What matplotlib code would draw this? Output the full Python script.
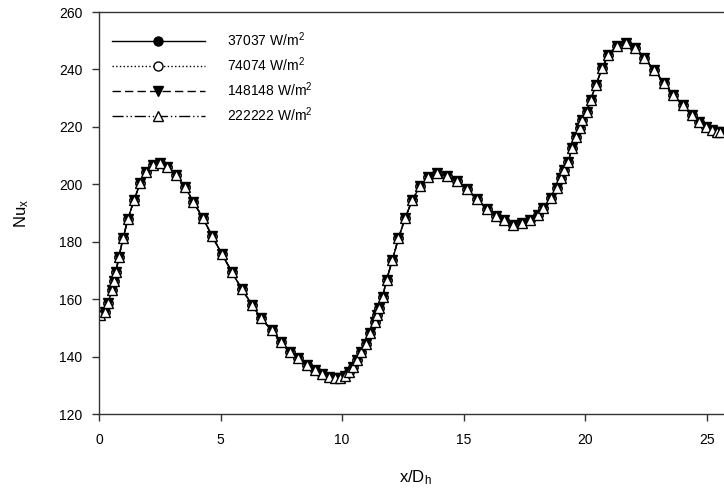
import matplotlib
matplotlib.use('Agg')
import matplotlib.pyplot as plt

plt.rcParams['font.family'] = ['Liberation Sans', 'DejaVu Sans']
plt.rcParams['mathtext.default'] = 'regular'

# Data (all four heat fluxes collapse onto one curve)
x_dh = [0.04, 0.25, 0.37, 0.53, 0.62, 0.70, 0.82, 0.99, 1.19, 1.44, 1.69, 1.93,
        2.22, 2.51, 2.80, 3.17, 3.54, 3.87, 4.28, 4.65, 5.06, 5.47, 5.88, 6.30,
        6.66, 7.10, 7.48, 7.86, 8.20, 8.55, 8.88, 9.18, 9.45, 9.70, 9.92, 10.12,
        10.28, 10.44, 10.60, 10.78, 10.97, 11.15, 11.34, 11.43, 11.52, 11.67, 11.83,
        12.07, 12.32, 12.59, 12.89, 13.21, 13.55, 13.92, 14.31, 14.72, 15.13, 15.54,
        15.98, 16.32, 16.66, 17.02, 17.39, 17.74, 18.04, 18.28, 18.59, 18.83, 19.00,
        19.14, 19.31, 19.45, 19.63, 19.77, 19.88, 20.07, 20.22, 20.45, 20.69, 20.96,
        21.30, 21.69, 22.06, 22.43, 22.84, 23.25, 23.63, 24.02, 24.39, 24.70, 24.98,
        25.21, 25.42, 25.56]
nu_x = [154.5, 155.6, 158.5, 163.2, 166.4, 169.6, 174.8, 181.2, 187.9, 194.5, 200.3, 204.4,
        206.7, 207.3, 205.9, 203.2, 199.2, 194.0, 188.2, 182.0, 175.7, 169.4, 163.4, 158.0,
        153.3, 149.3, 145.2, 141.7, 139.4, 137.1, 135.2, 133.8, 132.9, 132.5, 132.7, 133.4,
        134.5, 136.3, 138.8, 141.6, 144.5, 148.1, 152.1, 154.5, 156.8, 160.9, 166.7,
        173.6, 181.2, 188.2, 194.5, 199.4, 202.4, 203.8, 202.9, 201.3, 198.3, 194.8,
        191.3, 189.0, 187.6, 185.8, 186.4, 187.6, 189.3, 191.6, 195.1, 198.6, 202.1,
        205.0, 207.9, 212.5, 216.6, 219.5, 222.4, 225.3, 229.4, 234.6, 240.4, 245.0,
        248.2, 249.1, 247.4, 243.9, 239.8, 235.2, 231.1, 227.6, 224.1, 221.8, 220.0,
        218.9, 218.3, 218.3]

nu_37037 = nu_x
nu_74074 = nu_x
nu_148148 = nu_x
nu_222222 = nu_x

labels = [r'37037 W/m$^{2}$', r'74074 W/m$^{2}$', r'148148 W/m$^{2}$', r'222222 W/m$^{2}$']

fig = plt.figure(figsize=(7.24, 4.88), dpi=100)
# axes run past the right edge of the figure, as in the reference
ax = fig.add_axes([99 / 724, 74 / 488, 632 / 724, 402 / 488])

ms = 6.5
ax.plot(x_dh, nu_37037, color='black', linestyle='-', linewidth=1,
        marker='o', markersize=ms, markerfacecolor='black', markeredgecolor='black', label=labels[0])
ax.plot(x_dh, nu_74074, color='black', linestyle=':', linewidth=1,
        marker='o', markersize=ms, markerfacecolor='white', markeredgecolor='black', label=labels[1])
ax.plot(x_dh, nu_148148, color='black', linestyle=(0, (6, 3)), linewidth=1,
        marker='v', markersize=ms, markerfacecolor='black', markeredgecolor='black', label=labels[2])
ax.plot(x_dh, nu_222222, color='black', linestyle=(0, (8, 2, 1, 2, 1, 2)), linewidth=1,
        marker='^', markersize=ms, markerfacecolor='white', markeredgecolor='black', label=labels[3])

# Fix limits
ax.set_xlim(0, 26)
ax.set_ylim(120, 260)
ax.set_xticks([0, 5, 10, 15, 20, 25])
ax.set_yticks(range(120, 261, 20))

# Style
for side in ['left', 'bottom', 'top', 'right']:
    ax.spines[side].set_color('#333333')
    ax.spines[side].set_linewidth(1)
ax.tick_params(axis='both', which='both', direction='out', length=5, width=1,
               color='#333333', labelsize=10, top=False, right=False)
ax.tick_params(axis='x', pad=9)
ax.tick_params(axis='y', pad=7)

ax.set_xlabel(r'x/D$_{h}$', fontsize=12, labelpad=15)
ax.set_ylabel(r'Nu$_{x}$', fontsize=12, labelpad=20)

ax.legend(loc='upper left', bbox_to_anchor=(0.02, 0.955), frameon=False, fontsize=10,
          handlelength=6.7, handletextpad=1.6, labelspacing=0.47, borderpad=0,
          borderaxespad=0)

fig.savefig('out.png', dpi=100)
